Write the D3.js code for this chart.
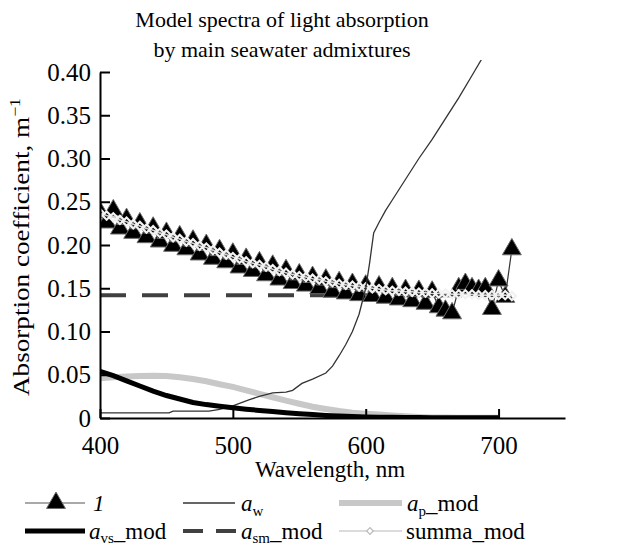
<!DOCTYPE html>
<html><head><meta charset="utf-8">
<script src="https://cdn.jsdelivr.net/npm/d3@7"></script>
<style>body{margin:0;background:#fff} svg{display:block} text{font-family:"Liberation Serif","Times New Roman",serif;fill:#000}</style>
</head><body><svg id="c" width="639" height="545" font-family='"Liberation Serif","Times New Roman",serif'></svg>
<script>
const titleLines = ["Model spectra of light absorption", "by main seawater admixtures"];
const xLabel = "Wavelength, nm";
const xTicks = [400, 500, 600, 700];
const xTickLabels = ["400", "500", "600", "700"];
const yTicks = [0, 0.05, 0.10, 0.15, 0.20, 0.25, 0.30, 0.35, 0.40];
const yTickLabels = ["0", "0.05", "0.10", "0.15", "0.20", "0.25", "0.30", "0.35", "0.40"];

// measured series "1" and summa_mod (5 nm grid)
const wlMeas = [400,405,410,415,420,425,430,435,440,445,450,455,460,465,470,475,480,485,490,495,
  500,505,510,515,520,525,530,535,540,545,550,555,560,565,570,575,580,585,590,595,
  600,605,610,615,620,625,630,635,640,645,650,655,660,665,670,675,680,685,690,695,700,705,710];
const meas1 = [0.238,0.226,0.240,0.219,0.230,0.214,0.225,0.209,0.220,0.204,0.214,0.199,0.210,0.195,0.205,0.189,0.200,0.184,0.194,0.180,
  0.190,0.174,0.184,0.170,0.180,0.165,0.176,0.160,0.171,0.156,0.166,0.153,0.163,0.150,0.160,0.146,0.157,0.144,0.155,0.142,
  0.153,0.141,0.152,0.139,0.150,0.137,0.148,0.135,0.147,0.132,0.146,0.128,0.124,0.121,0.150,0.155,0.150,0.148,0.150,0.126,0.159,0.140,0.195];
const summaMod = [0.237,0.234,0.232,0.229,0.227,0.224,0.222,0.219,0.217,0.214,0.212,0.209,0.207,0.204,0.202,0.199,0.197,0.194,0.191,0.189,
  0.186,0.184,0.181,0.179,0.177,0.175,0.172,0.170,0.168,0.166,0.164,0.163,0.161,0.160,0.158,0.157,0.155,0.154,0.153,0.152,
  0.151,0.150,0.149,0.148,0.147,0.147,0.146,0.146,0.145,0.145,0.144,0.144,0.144,0.143,0.143,0.143,0.143,0.142,0.142,0.142,0.142,0.142,0.141];

// model components (10 nm grid)
const wlMod = [400,410,420,430,440,450,460,470,480,490,500,510,520,530,540,550,560,570,580,590,600,610,620,630,640,650,660,670,680,690,700];
const aVsMod = [0.054,0.049,0.043,0.037,0.031,0.026,0.022,0.018,0.0155,0.0135,0.0118,0.0102,0.0088,0.0075,0.0062,0.0050,0.0040,0.0030,0.0022,0.0016,
  0.0012,0.0010,0.0008,0.0006,0.0005,0.0004,0.0003,0.0003,0.0002,0.0002,0.0002];
const aPMod = [0.046,0.047,0.048,0.0485,0.0487,0.0485,0.047,0.045,0.0425,0.039,0.036,0.032,0.028,0.024,0.020,0.0165,0.013,0.0105,0.008,0.0062,
  0.005,0.004,0.003,0.002,0.0012,0.0007,0.0005,0.0004,0.0003,0.0003,0.0003];
const wlSm = [400, 700];
const aSmMod = [0.142, 0.142];

// pure water absorption
const wlW = [400,452,455,482,490,500,505,512,520,530,540,545,552,560,570,575,580,585,590,595,600,603,606,610,615,620,630,640,650,660,670,680,690,700];
const aW = [0.006,0.006,0.008,0.008,0.010,0.014,0.017,0.021,0.025,0.029,0.030,0.032,0.040,0.045,0.052,0.060,0.072,0.085,0.100,0.120,
  0.150,0.180,0.214,0.226,0.240,0.252,0.276,0.300,0.322,0.346,0.370,0.396,0.422,0.445];

const FONT = '"Liberation Serif","Times New Roman",serif';
const svg = d3.select("#c");
const x = d3.scaleLinear().domain([400, 750]).range([100, 565]);
const y = d3.scaleLinear().domain([0, 0.4]).range([418, 72]);

// title
titleLines.forEach((t, i) => {
  svg.append("text").attr("x", 282).attr("y", 27 + i * 30).attr("text-anchor", "middle")
    .attr("font-family", FONT).attr("font-size", 22).text(t);
});

svg.append("clipPath").attr("id", "clip").append("rect")
  .attr("x", 100).attr("y", 60).attr("width", 470).attr("height", 358);
const plot = svg.append("g").attr("clip-path", "url(#clip)");

const mkLine = (xs, ys) => d3.line().x((d, i) => x(xs[i])).y(d => y(d))(ys);

plot.append("path").attr("d", mkLine(wlMod, aPMod)).attr("fill", "none")
  .attr("stroke", "#c8c8c8").attr("stroke-width", 6);
plot.append("path").attr("d", mkLine(wlSm, aSmMod)).attr("fill", "none")
  .attr("stroke", "#404040").attr("stroke-width", 4).attr("stroke-dasharray", "26,16");
plot.append("path").attr("d", mkLine(wlMeas, meas1)).attr("fill", "none")
  .attr("stroke", "#333").attr("stroke-width", 1.2);
const tri = d3.symbol(d3.symbolTriangle, 155);
plot.append("g").selectAll("path").data(meas1).join("path")
  .attr("transform", (d, i) => `translate(${x(wlMeas[i])},${y(d)})`)
  .attr("d", tri).attr("fill", "#000").attr("stroke", "#6a6a6a").attr("stroke-width", 1);
plot.append("path").attr("d", mkLine(wlMeas, summaMod)).attr("fill", "none")
  .attr("stroke", "#d4d4d4").attr("stroke-width", 1.6);
const dia = d3.symbol(d3.symbolSquare, 34);
plot.append("g").selectAll("path").data(summaMod).join("path")
  .attr("transform", (d, i) => `translate(${x(wlMeas[i])},${y(d)}) rotate(45)`)
  .attr("d", dia).attr("fill", "none").attr("stroke", "#f2f2f2").attr("stroke-width", 2.2);
plot.append("path").attr("d", mkLine(wlW, aW)).attr("fill", "none")
  .attr("stroke", "#333").attr("stroke-width", 1.3);
plot.append("path").attr("d", mkLine(wlMod, aVsMod)).attr("fill", "none")
  .attr("stroke", "#000").attr("stroke-width", 5);

// axes
const yAxis = d3.axisLeft(y).tickValues(yTicks).tickFormat((d, i) => yTickLabels[i])
  .tickSizeInner(-10).tickSizeOuter(0).tickPadding(9);
const gy = svg.append("g").attr("transform", "translate(100,0)").call(yAxis);
const xAxis = d3.axisBottom(x).tickValues(xTicks).tickFormat((d, i) => xTickLabels[i])
  .tickSizeInner(-9).tickSizeOuter(0).tickPadding(18);
const gx = svg.append("g").attr("transform", "translate(0,418)").call(xAxis);
[gx, gy].forEach(g => {
  g.select(".domain").attr("stroke", "#000").attr("stroke-width", 2);
  g.selectAll(".tick line").attr("stroke", "#000").attr("stroke-width", 2);
  g.selectAll(".tick text").attr("font-size", 25).attr("fill", "#000").attr("font-family", FONT);
});

svg.append("text").attr("x", 330).attr("y", 477).attr("text-anchor", "middle")
  .attr("font-family", FONT).attr("font-size", 23).text(xLabel);

const yl = svg.append("text").attr("transform", "translate(29,247) rotate(-90)")
  .attr("text-anchor", "middle").attr("font-family", FONT).attr("font-size", 23)
  .attr("textLength", 298).attr("lengthAdjust", "spacingAndGlyphs");
yl.append("tspan").text("Absorption coefficient, m");
yl.append("tspan").attr("font-size", 15).attr("dy", -9).text("\u22121");

// legend
const L = svg.append("g");
const r1 = 503, r2 = 531, b1 = 511, b2 = 539;
const lt = (xx, yy) => L.append("text").attr("x", xx).attr("y", yy).attr("font-family", FONT).attr("font-size", 23);
L.append("line").attr("x1", 25).attr("x2", 85).attr("y1", r1).attr("y2", r1).attr("stroke", "#555").attr("stroke-width", 1.2);
L.append("path").attr("d", tri).attr("transform", `translate(56,${r1})`).attr("fill", "#000").attr("stroke", "#6a6a6a");
lt(93, b1).attr("font-style", "italic").text("1");

L.append("line").attr("x1", 183).attr("x2", 235).attr("y1", r1).attr("y2", r1).attr("stroke", "#333").attr("stroke-width", 1.3);
const tw = lt(241, b1);
tw.append("tspan").attr("font-style", "italic").text("a");
tw.append("tspan").attr("font-size", 15).attr("dy", 5).text("w");

L.append("line").attr("x1", 339).attr("x2", 402).attr("y1", r1).attr("y2", r1).attr("stroke", "#c8c8c8").attr("stroke-width", 6);
const tp = lt(407, b1);
tp.append("tspan").attr("font-style", "italic").text("a");
tp.append("tspan").attr("font-size", 15).attr("dy", 5).text("p");
tp.append("tspan").attr("dy", -5).text("_mod");

L.append("line").attr("x1", 25).attr("x2", 85).attr("y1", r2).attr("y2", r2).attr("stroke", "#000").attr("stroke-width", 5);
const tv = lt(89, b2);
tv.append("tspan").attr("font-style", "italic").text("a");
tv.append("tspan").attr("font-size", 15).attr("dy", 4).text("vs");
tv.append("tspan").attr("dy", -4).text("_mod");

L.append("line").attr("x1", 183).attr("x2", 236).attr("y1", r2).attr("y2", r2).attr("stroke", "#404040").attr("stroke-width", 4).attr("stroke-dasharray", "20,13");
const ts = lt(241, b2);
ts.append("tspan").attr("font-style", "italic").text("a");
ts.append("tspan").attr("font-size", 15).attr("dy", 4).text("sm");
ts.append("tspan").attr("dy", -4).text("_mod");

L.append("line").attr("x1", 339).attr("x2", 402).attr("y1", r2).attr("y2", r2).attr("stroke", "#cfcfcf").attr("stroke-width", 1.5);
L.append("path").attr("d", d3.symbol(d3.symbolSquare, 22)).attr("transform", `translate(370,${r2}) rotate(45)`)
  .attr("fill", "#fff").attr("stroke", "#bdbdbd").attr("stroke-width", 1.3);
lt(406, b2).text("summa_mod");
</script></body></html>
